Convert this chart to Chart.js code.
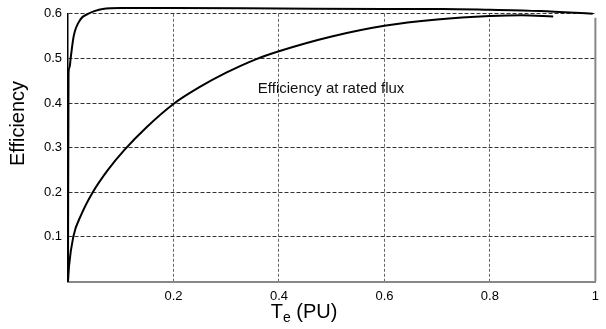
<!DOCTYPE html>
<html><head><meta charset="utf-8">
<script src="https://cdn.jsdelivr.net/npm/chart.js@4"></script>
<style>html,body{margin:0;padding:0;background:#fff}#wrap{width:606px;height:329px}</style>
</head><body><div id="wrap"><canvas id="c" width="606" height="329"></canvas></div>
<script>
// Efficiency at rated flux (lower, slowly rising curve)
const ratedFluxTorque = [0, 0.002, 0.01, 0.026, 0.047, 0.075, 0.107, 0.15, 0.2, 0.25, 0.3, 0.356, 0.4, 0.5, 0.6, 0.7, 0.8, 0.86, 0.92];
const ratedFluxEff    = [0, 0.035, 0.1, 0.152, 0.2, 0.249, 0.295, 0.347, 0.398, 0.436, 0.468, 0.498, 0.516, 0.549, 0.573, 0.587, 0.595, 0.597, 0.594];
// Efficiency with optimised flux (upper, fast rising curve)
const optFluxTorque = [0, 0.001, 0.003, 0.005, 0.011, 0.024, 0.038, 0.05, 0.066, 0.1, 0.2, 0.4, 0.6, 0.71, 0.8, 0.895, 0.995];
const optFluxEff    = [0, 0.466, 0.48, 0.5, 0.551, 0.588, 0.6, 0.606, 0.611, 0.613, 0.613, 0.612, 0.611, 0.611, 0.609, 0.606, 0.6];

const xTickValues = [0, 0.2, 0.4, 0.6, 0.8, 1];
const yTickValues = [0, 0.1, 0.2, 0.3, 0.4, 0.5, 0.6];

const yTitle = 'Efficiency';
const xTitleMain = 'T', xTitleSub = 'e', xTitleRest = ' (PU)';
const annotationText = 'Efficiency at rated flux';
const annotationAt = {x: 0.36, y: 0.432};

const FONT = '"Liberation Sans", Arial, Helvetica, sans-serif';

function toPoints(xs, ys){ return xs.map((x,i)=>({x:x, y:ys[i]})); }

const decorPlugin = {
  id: 'decor',
  afterDraw(chart){
    const ctx = chart.ctx, a = chart.chartArea;
    const xs = chart.scales.x, ys = chart.scales.y;
    ctx.save();
    // right frame line
    ctx.strokeStyle = '#888'; ctx.lineWidth = 2; ctx.setLineDash([]);
    ctx.beginPath(); ctx.moveTo(a.right, a.top + 4); ctx.lineTo(a.right, a.bottom); ctx.stroke();
    // annotation
    ctx.fillStyle = '#111';
    ctx.font = '15px ' + FONT;
    ctx.textAlign = 'left'; ctx.textBaseline = 'middle';
    ctx.fillText(annotationText, xs.getPixelForValue(annotationAt.x), ys.getPixelForValue(annotationAt.y));
    // y title
    ctx.save();
    ctx.translate(24, 123.5);
    ctx.rotate(-Math.PI/2);
    ctx.font = '20px ' + FONT;
    ctx.textAlign = 'center'; ctx.textBaseline = 'alphabetic';
    ctx.fillStyle = '#000';
    ctx.fillText(yTitle, 0, 0);
    ctx.restore();
    // x title with subscript
    ctx.fillStyle = '#000';
    ctx.textBaseline = 'alphabetic'; ctx.textAlign = 'left';
    ctx.font = '20px ' + FONT;
    const wMain = ctx.measureText(xTitleMain).width;
    const wRest = ctx.measureText(xTitleRest).width;
    ctx.font = '14px ' + FONT;
    const wSub = ctx.measureText(xTitleSub).width;
    const total = wMain + wSub + wRest;
    let x0 = 304 - total/2;
    const base = a.bottom + 36.5;
    ctx.font = '20px ' + FONT;
    ctx.fillText(xTitleMain, x0, base);
    ctx.font = '14px ' + FONT;
    ctx.fillText(xTitleSub, x0 + wMain, base + 4);
    ctx.font = '20px ' + FONT;
    ctx.fillText(xTitleRest, x0 + wMain + wSub, base);
    ctx.restore();
  }
};

new Chart(document.getElementById('c'), {
  type: 'scatter',
  data: {
    datasets: [
      { label: 'Optimal flux', data: toPoints(optFluxTorque, optFluxEff), showLine: true, borderColor: '#000', borderWidth: 2, pointRadius: 0, cubicInterpolationMode: 'monotone', clip: false, fill: false },
      { label: 'Rated flux', data: toPoints(ratedFluxTorque, ratedFluxEff), showLine: true, borderColor: '#000', borderWidth: 2, pointRadius: 0, cubicInterpolationMode: 'monotone', clip: false, fill: false }
    ]
  },
  options: {
    responsive: false,
    animation: false,
    devicePixelRatio: 1,
    layout: { padding: { left: 0, right: 4, top: 11.5, bottom: 0 } },
    plugins: { legend: { display: false }, tooltip: { enabled: false } },
    scales: {
      x: {
        type: 'linear', min: 0, max: 1,
        afterBuildTicks(s){ s.ticks = xTickValues.map(v=>({value:v})); },
        afterFit(s){ s.height = 47.5; },
        ticks: { padding: 7, color: '#000', font: { family: FONT, size: 13 },
          callback: v => v === 0 ? '' : String(Math.round(v*10)/10) },
        grid: { drawTicks: false, color: c => (c.tick && (c.tick.value === 0 || c.tick.value === 1)) ? 'rgba(0,0,0,0)' : '#666', lineWidth: 1 },
        border: { display: true, color: '#888', width: 2, dash: [3, 2] }
      },
      y: {
        type: 'linear', min: 0, max: 0.6,
        afterBuildTicks(s){ s.ticks = yTickValues.map(v=>({value:v})); },
        afterFit(s){ s.width = 68; },
        ticks: { padding: 6, color: '#000', font: { family: FONT, size: 13 },
          callback: v => v === 0 ? '' : String(Math.round(v*10)/10) },
        grid: { drawTicks: false, color: c => (c.tick && c.tick.value === 0) ? 'rgba(0,0,0,0)' : '#333', lineWidth: 1 },
        border: { display: true, color: '#000', width: 1.5, dash: [4, 2] }
      }
    }
  },
  plugins: [decorPlugin]
});
</script>
</body></html>
